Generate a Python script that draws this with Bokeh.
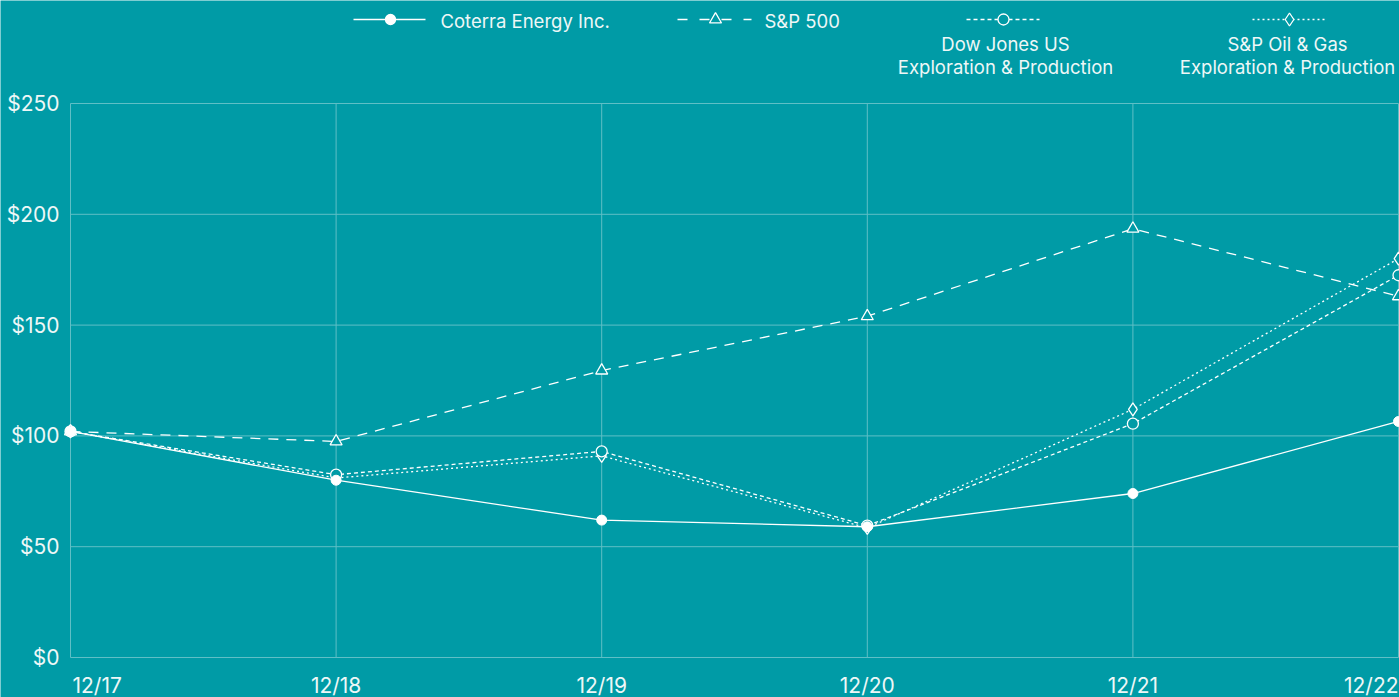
from bokeh.plotting import figure
from bokeh.models import Range1d
from bokeh.embed import file_html
from bokeh.resources import INLINE
from bokeh.core.properties import value

# ---------------- data ----------------
categories = ["12/17", "12/18", "12/19", "12/20", "12/21", "12/22"]
coterra = [102, 80, 62, 59, 74, 106.5]
sp500 = [102, 97.5, 129.5, 154, 193.5, 163]
dj_us_ep = [102, 82.5, 93, 59.5, 105.5, 172.5]
sp_og_ep = [102, 81, 91, 58.5, 112, 180]
y_ticks = [0, 50, 100, 150, 200, 250]
y_tick_labels = ["$0", "$50", "$100", "$150", "$200", "$250"]
legend_labels = ["Coterra Energy Inc.", "S&P 500",
                 "Dow Jones US\nExploration & Production",
                 "S&P Oil & Gas\nExploration & Production"]

# ---------------- style / layout ----------------
BG = "#009ba6"
GRID = "#5fbfc6"
WHITE = "#ffffff"
TEXT = "#eef7f7"
FONT = "Inter"
W, H = 1399, 697
X0, XS = 70.0, 265.6      # pixel of first category, pixels per category
Y0, YS = 657.0, 2.216     # pixel of $0, pixels per dollar


def dx(px):
    return (px - X0) / XS


def dy(py):
    return (Y0 - py) / YS


xs = list(range(len(categories)))

p = figure(width=W, height=H, output_backend="svg", toolbar_location=None,
           x_range=Range1d(dx(0), dx(W)), y_range=Range1d(dy(H), dy(0)),
           min_border=0, background_fill_color=BG, border_fill_color=BG,
           outline_line_color=None)
p.axis.visible = False
p.grid.visible = False

# grid lines
p.segment(x0=[xs[0]] * len(y_ticks), y0=y_ticks, x1=[xs[-1]] * len(y_ticks), y1=y_ticks,
          line_color=GRID, line_width=1)
p.segment(x0=xs, y0=[y_ticks[0]] * len(xs), x1=xs, y1=[y_ticks[-1]] * len(xs),
          line_color=GRID, line_width=1)

# series
LW = 1.3
p.line(xs, sp_og_ep, line_color=WHITE, line_width=LW, line_dash="2 3")
p.scatter(xs, sp_og_ep, marker="diamond", size=13, fill_color=BG, line_color=WHITE, line_width=LW)
p.line(xs, dj_us_ep, line_color=WHITE, line_width=LW, line_dash="4 3")
p.scatter(xs, dj_us_ep, marker="circle", size=11, fill_color=BG, line_color=WHITE, line_width=LW)
p.line(xs, sp500, line_color=WHITE, line_width=LW, line_dash="10 8")
p.scatter(xs, sp500, marker="triangle", size=12, fill_color=BG, line_color=WHITE, line_width=LW)
p.line(xs, coterra, line_color=WHITE, line_width=LW)
p.scatter(xs, coterra, marker="circle", size=10, fill_color=WHITE, line_color=WHITE)

# y tick labels
p.text(x=[dx(59)] * len(y_ticks), y=y_ticks, text=y_tick_labels, text_align="right",
       text_baseline="middle", text_font=value(FONT), text_font_size="21px", text_color=TEXT)

# x tick labels
XL_Y = dy(685)
TICK_FS = "21px"
p.text(x=[xs[0]], y=[XL_Y], text=[categories[0]], x_offset=2, text_align="left",
       text_baseline="middle", text_font=value(FONT), text_font_size=TICK_FS, text_color=TEXT)
p.text(x=xs[1:-1], y=[XL_Y] * (len(xs) - 2), text=categories[1:-1], text_align="center",
       text_baseline="middle", text_font=value(FONT), text_font_size=TICK_FS, text_color=TEXT)
p.text(x=[xs[-1]], y=[XL_Y], text=[categories[-1]], text_align="right",
       text_baseline="middle", text_font=value(FONT), text_font_size=TICK_FS, text_color=TEXT)

# legend
line_px = [(353, 425), (677, 751), (966, 1039), (1252, 1327)]
mark_px = [390, 715, 1003, 1289]
dashes = ["solid", "10 12", "4 3", "2 3"]
markers = ["circle", "triangle", "circle", "diamond"]
msizes = [10, 12, 11, 13]
mfill = [WHITE, BG, BG, BG]
LY = dy(19)
for (a, b), mx, d, m, s, f in zip(line_px, mark_px, dashes, markers, msizes, mfill):
    p.line([dx(a), dx(b)], [LY, LY], line_color=WHITE, line_width=LW, line_dash=d)
    p.scatter([dx(mx)], [LY], marker=m, size=s, fill_color=f, line_color=WHITE, line_width=LW)

p.text(x=[dx(440), dx(764)], y=[dy(20)] * 2, text=legend_labels[:2], text_align="left",
       text_baseline="middle", text_font=value(FONT), text_font_size="18.5px", text_color=TEXT)
p.text(x=[dx(1005), dx(1287)], y=[dy(55)] * 2, text=legend_labels[2:], text_align="center",
       text_baseline="middle", text_font=value(FONT), text_font_size="18.5px",
       text_color=TEXT, text_line_height=1.08)

open("out.html", "w").write(file_html(p, INLINE))
